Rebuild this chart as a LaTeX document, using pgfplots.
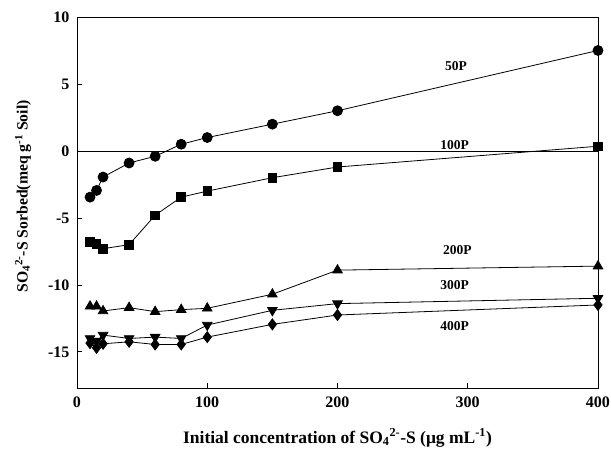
\documentclass[border=0pt]{standalone}
\usepackage{pgfplots}
\pgfplotsset{compat=1.18}
\usepackage{fontspec}
\setmainfont{Liberation Serif}
\begin{document}
\begin{tikzpicture}
\useasboundingbox (-77pt,-62pt) rectangle (534pt,388pt);
\begin{axis}[
  scale only axis, width=521pt, height=371pt,
  xmin=0, xmax=400, ymin=-17.7, ymax=10,
  xtick={0,100,200,300,400}, ytick={-15,-10,-5,0,5,10},
  xtick pos=bottom, ytick pos=left, tick align=inside,
  major tick length=5pt,
  axis line style={black, line width=0.8pt},
  tick style={black, line width=0.7pt},
  /pgf/number format/assume math mode=true,
  tick label style={font=\fontsize{16}{18}\selectfont\bfseries},
  xticklabel style={yshift=-5pt},
  yticklabel style={xshift=-4pt},
  xlabel={\fontsize{17.5}{20}\selectfont\bfseries Initial concentration of SO\textsubscript{4}\textsuperscript{2-}-S (μg mL\textsuperscript{-1})},
  ylabel={\fontsize{15.7}{18}\selectfont\bfseries SO\textsubscript{4}\textsuperscript{2-}-S Sorbed(meq g\textsuperscript{-1} Soil)},
  xlabel style={at={([yshift=-50pt]axis description cs:0.5,0)}, anchor=center},
  ylabel style={at={([xshift=-54pt,yshift=6pt]axis description cs:0,0.5)}, anchor=center, rotate=0},
  every axis plot/.append style={black, line width=0.8pt, mark options={solid, fill=black}},
]
\addplot[black, line width=0.8pt, mark=none] coordinates {(0,0) (400,0)};
% 50P
\addplot[mark=*, mark size=5pt] coordinates {
(10,-3.45) (15,-2.95) (20,-1.95) (40,-0.9) (60,-0.4) (80,0.5) (100,1.0) (150,2.0) (200,3.0) (400,7.5)};
% 100P
\addplot[mark=square*, mark size=4.3pt] coordinates {
(10,-6.8) (15,-6.95) (20,-7.3) (40,-7.0) (60,-4.8) (80,-3.45) (100,-3.0) (150,-2.0) (200,-1.2) (400,0.35)};
% 200P
\addplot[mark=triangle*, mark size=5.5pt] coordinates {
(10,-11.6) (15,-11.6) (20,-11.95) (40,-11.7) (60,-12.0) (80,-11.85) (100,-11.75) (150,-10.7) (200,-8.9) (400,-8.6)};
% 300P
\addplot[mark=triangle*, mark size=5.5pt, mark options={rotate=180}] coordinates {
(10,-14.0) (15,-14.2) (20,-13.75) (40,-14.0) (60,-13.9) (80,-14.0) (100,-13.0) (150,-11.9) (200,-11.4) (400,-11.0)};
% 400P
\addplot[mark=diamond*, mark size=5.5pt] coordinates {
(10,-14.35) (15,-14.7) (20,-14.4) (40,-14.25) (60,-14.45) (80,-14.45) (100,-13.9) (150,-12.95) (200,-12.25) (400,-11.5)};
\node[font=\fontsize{13.5}{15}\selectfont\bfseries] at (axis cs:291,6.35) {50P};
\node[font=\fontsize{13.5}{15}\selectfont\bfseries] at (axis cs:290,0.45) {100P};
\node[font=\fontsize{13.5}{15}\selectfont\bfseries] at (axis cs:292,-7.4) {200P};
\node[font=\fontsize{13.5}{15}\selectfont\bfseries] at (axis cs:290,-10.0) {300P};
\node[font=\fontsize{13.5}{15}\selectfont\bfseries] at (axis cs:290,-13.1) {400P};
\end{axis}
\end{tikzpicture}
\end{document}
